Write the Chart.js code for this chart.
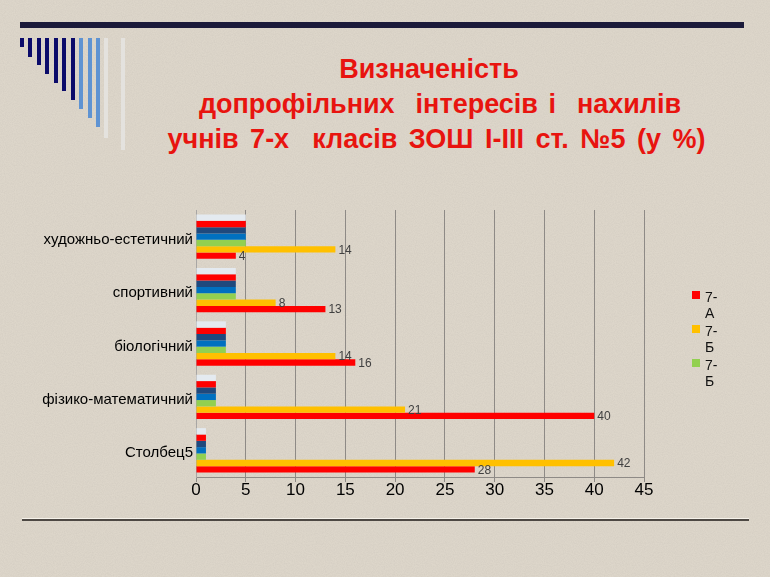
<!DOCTYPE html>
<html>
<head>
<meta charset="utf-8">
<script src="https://cdn.jsdelivr.net/npm/chart.js@4/dist/chart.umd.min.js"></script>
<style>
  html, body { margin:0; padding:0; }
  body { width:770px; height:577px; position:relative; overflow:hidden;
         background:#DDD6CA; font-family:'Liberation Sans', Arial, sans-serif; }
  #noise { position:absolute; left:0; top:0; width:770px; height:577px; opacity:0.25;
           background-image:url("data:image/svg+xml;utf8,<svg xmlns='http://www.w3.org/2000/svg' width='770' height='577'><filter id='n'><feTurbulence type='fractalNoise' baseFrequency='0.9' numOctaves='2' seed='3'/><feColorMatrix values='0 0 0 0 0.45  0 0 0 0 0.42  0 0 0 0 0.38  0 0 0 1.2 -0.35'/></filter><rect width='100%' height='100%' filter='url(%23n)'/></svg>"); }
  .abs { position:absolute; }
  #topbar { left:20px; top:22px; width:724px; height:6px; background:#1B1A3A; }
  .deco { position:absolute; top:38px; width:4px; }
  #title { left:0; top:52px; width:876px; text-align:center; color:#E8140F;
           font-weight:bold; font-size:27px; line-height:35px; letter-spacing:0; word-spacing:3px; white-space:nowrap; }
  #bottomline { left:22px; top:519px; width:727px; height:2px; background:#4D4843;
                box-shadow:0 -1px 0 #F6F2EA; }
  #chartWrap { left:0; top:0; width:770px; height:577px; }
  .lg-sq { position:absolute; width:8px; height:8px; }
  .lg-tx { position:absolute; font-size:14px; line-height:16px; color:#111; }
</style>
</head>
<body>
<div id="noise"></div>
<div id="topbar" class="abs"></div>
<div id="decor"></div>
<div id="title" class="abs">
  <div style="padding-right:18px">Визначеність</div>
  <div style="padding-left:4px">допрофільних&nbsp; інтересів і&nbsp; нахилів</div>
  <div style="padding-right:3px; word-spacing:4px">учнів 7-х&nbsp; класів ЗОШ І-ІІІ ст. №5 (у %)</div>
</div>
<div id="bottomline" class="abs"></div>
<div id="chartWrap" class="abs"><canvas id="c" width="770" height="577"></canvas></div>
<div id="legend"></div>
<script>
// ---- data ----
const categories = ['художньо-естетичний', 'спортивний', 'біологічний', 'фізико-математичний', 'Столбец5'];
const seriesNames = ['7-А', '7-Б', '7-Б', 'Ряд4', 'Ряд5', 'Ряд6', 'Ряд7'];
const values7A  = [4, 13, 16, 40, 28];
const values7B  = [14, 8, 14, 21, 42];
const values7B2 = [5, 4, 3, 2, 1];
const values4   = [5, 4, 3, 2, 1];
const values5   = [5, 4, 3, 2, 1];
const values6   = [5, 4, 3, 2, 1];
const values7   = [5, 4, 3, 2, 1];
const xMin = 0, xMax = 45, xStep = 5;

// ---- styles ----
const colors = ['#FF0000', '#FFC000', '#92D050', '#0070C0', '#1F497D', '#FF0000', '#E4EAF0'];
const labelled = [true, true, false, false, false, false, false];
const allValues = [values7A, values7B, values7B2, values4, values5, values6, values7];

// decoration bars
const decor = document.getElementById('decor');
const decoX = [20, 28, 37, 45, 54, 62, 71, 79, 88, 96, 104, 121];
const decoBottom = [47, 57, 65, 74, 83, 91, 100, 109, 118, 127, 138, 150];
const decoCol = ['#0B0B6A','#0B0B6A','#0B0B6A','#0B0B6A','#0B0B6A','#0B0B6A','#0B0B6A','#5F93D2','#5F93D2','#5F93D2','#E4E2DE','#E4E2DE'];
decoX.forEach((x, i) => {
  const d = document.createElement('div');
  d.className = 'deco';
  d.style.left = x + 'px';
  d.style.height = (decoBottom[i] - 38) + 'px';
  d.style.background = decoCol[i];
  decor.appendChild(d);
});

// legend (only first three series shown, as in the reference)
const legend = document.getElementById('legend');
[0, 1, 2].forEach(i => {
  const sq = document.createElement('div');
  sq.className = 'lg-sq';
  sq.style.left = '692px';
  sq.style.top = (291 + i * 34) + 'px';
  sq.style.background = colors[i];
  legend.appendChild(sq);
  const tx = document.createElement('div');
  tx.className = 'lg-tx';
  tx.style.left = '705px';
  tx.style.top = (289 + i * 34) + 'px';
  const parts = seriesNames[i].split('-');
  tx.innerHTML = parts[0] + '-<br>' + parts[1];
  legend.appendChild(tx);
});

// datasets ordered top-to-bottom within each category (7-А at the bottom)
const order = [6, 5, 4, 3, 2, 1, 0];
const datasets = order.map(i => ({
  label: seriesNames[i],
  data: allValues[i],
  backgroundColor: colors[i],
  borderWidth: 0,
  categoryPercentage: 0.83,
  barPercentage: 1.0,
  showLabel: labelled[i]
}));

const valueLabels = {
  id: 'valueLabels',
  afterDatasetsDraw(chart) {
    const ctx = chart.ctx;
    ctx.save();
    ctx.font = '12px "Liberation Sans", Arial, sans-serif';
    ctx.fillStyle = '#404040';
    ctx.textAlign = 'left';
    ctx.textBaseline = 'middle';
    chart.data.datasets.forEach((ds, di) => {
      if (!ds.showLabel) return;
      const meta = chart.getDatasetMeta(di);
      meta.data.forEach((bar, j) => {
        ctx.fillText(String(ds.data[j]), bar.x + 3, bar.y + 1);
      });
    });
    ctx.restore();
  }
};

new Chart(document.getElementById('c'), {
  type: 'bar',
  data: { labels: categories, datasets },
  plugins: [valueLabels],
  options: {
    indexAxis: 'y',
    responsive: false,
    animation: false,
    devicePixelRatio: 1,
    layout: { padding: { top: 210, left: 0, right: 126, bottom: 70 } },
    plugins: { legend: { display: false }, title: { display: false }, tooltip: { enabled: false } },
    scales: {
      x: {
        min: xMin, max: xMax,
        ticks: { stepSize: xStep, color: '#000', padding: -2,
                 font: { family: '"Liberation Sans", Arial, sans-serif', size: 17 } },
        grid: { color: '#8E8A86', lineWidth: 1, tickLength: 5, drawTicks: true },
        border: { display: true, color: '#8E8A86' },
        afterFit(scale) { scale.height = 30; }
      },
      y: {
        ticks: { color: '#000', padding: 3, labelOffset: 3,
                 font: { family: '"Liberation Sans", Arial, sans-serif', size: 15 } },
        grid: { display: false, drawTicks: false },
        border: { display: true, color: '#A8A6A4' },
        afterFit(scale) { scale.width = 196; }
      }
    }
  }
});
</script>
</body>
</html>
